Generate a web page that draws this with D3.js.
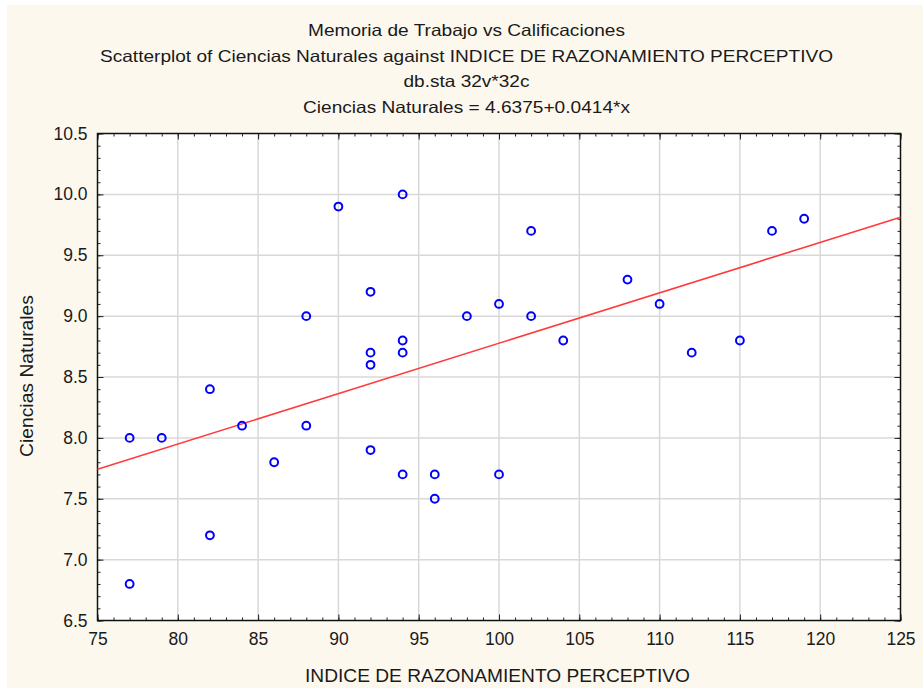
<!DOCTYPE html>
<html>
<head>
<meta charset="utf-8">
<script src="https://cdn.jsdelivr.net/npm/d3@7"></script>
<style>
  body { margin: 0; background: #fff; }
  text { font-family: "Liberation Sans", Arial, sans-serif; fill: #1a1a1a; }
</style>
</head>
<body>
<div id="chart"></div>
<script>
"use strict";

/** Data: INDICE DE RAZONAMIENTO PERCEPTIVO vs Ciencias Naturales */
const razonamiento = [77, 77, 79, 82, 82, 84, 86, 88, 88, 90, 92, 92, 92, 92, 94, 94,
                      94, 94, 96, 96, 98, 100, 100, 102, 102, 104, 108, 110, 112, 115, 117, 119];
const ciencias     = [8.0, 6.8, 8.0, 8.4, 7.2, 8.1, 7.8, 9.0, 8.1, 9.9, 9.2, 8.7, 8.6, 7.9, 10.0, 8.8,
                      8.7, 7.7, 7.7, 7.5, 9.0, 9.1, 7.7, 9.7, 9.0, 8.8, 9.3, 9.1, 8.7, 8.8, 9.7, 9.8];
const fitIntercept = 4.6375;
const fitSlope = 0.0414;
const xTicks = [75, 80, 85, 90, 95, 100, 105, 110, 115, 120, 125];
const yTicks = [6.5, 7.0, 7.5, 8.0, 8.5, 9.0, 9.5, 10.0, 10.5];
const titles = [
  "Memoria de Trabajo vs Calificaciones",
  "Scatterplot of Ciencias Naturales against INDICE DE RAZONAMIENTO PERCEPTIVO",
  "db.sta 32v*32c",
  "Ciencias Naturales = 4.6375+0.0414*x"
];
// text in the original is stretched sideways, these are the measured widths
const titleWidths = [317, 733, 126, 327];

/* Dimensions */
const w = 923;
const h = 690;
const plot = { left: 97.5, top: 133.5, right: 900.5, bottom: 620.5 };

const svg = d3.select("#chart")
  .append("svg")
  .attr("width", w)
  .attr("height", h);

/* cream panel */
svg.append("rect")
  .attr("x", 7).attr("y", 5)
  .attr("width", w - 7).attr("height", h - 7)
  .attr("fill", "#fdf8ee");

const x = d3.scaleLinear().domain([75, 125]).range([plot.left, plot.right]);
const y = d3.scaleLinear().domain([6.5, 10.5]).range([plot.bottom, plot.top]);

svg.append("rect")
  .attr("x", plot.left).attr("y", plot.top)
  .attr("width", plot.right - plot.left).attr("height", plot.bottom - plot.top)
  .attr("fill", "#fff");

/* gridlines */
const grid = svg.append("g").attr("stroke", "#d8d8d8").attr("stroke-width", 1.5);
grid.selectAll(".gx").data(xTicks.slice(1, -1)).enter().append("line")
  .attr("x1", d => x(d)).attr("x2", d => x(d))
  .attr("y1", plot.top).attr("y2", plot.bottom);
grid.selectAll(".gy").data(yTicks.slice(1, -1)).enter().append("line")
  .attr("y1", d => y(d)).attr("y2", d => y(d))
  .attr("x1", plot.left).attr("x2", plot.right);

/* axes, ticks inside */
const xMinor = d3.range(75, 126, 1);
const yMinor = d3.range(65, 106, 1).map(d => d / 10);

const fmtY = d3.format(".1f");
svg.append("g")
  .attr("transform", `translate(0,${plot.bottom})`)
  .call(d3.axisBottom(x).tickValues(xMinor).tickSize(-3).tickFormat(""))
  .call(g => g.select(".domain").remove());
svg.append("g")
  .attr("transform", `translate(0,${plot.bottom})`)
  .call(d3.axisBottom(x).tickValues(xTicks).tickSize(-6).tickPadding(12).tickFormat(d3.format("d")))
  .call(g => g.selectAll("text").attr("font-size", 17.5).attr("fill", "#1a1a1a"))
  .call(g => g.select(".domain").remove());
svg.append("g")
  .attr("transform", `translate(0,${plot.top})`)
  .call(d3.axisTop(x).tickValues(xMinor).tickSize(-3).tickFormat(""))
  .call(g => g.select(".domain").remove());
svg.append("g")
  .attr("transform", `translate(0,${plot.top})`)
  .call(d3.axisTop(x).tickValues(xTicks).tickSize(-6).tickFormat(""))
  .call(g => g.select(".domain").remove());

svg.append("g")
  .attr("transform", `translate(${plot.left},0)`)
  .call(d3.axisLeft(y).tickValues(yMinor).tickSize(-3).tickFormat(""))
  .call(g => g.select(".domain").remove());
svg.append("g")
  .attr("transform", `translate(${plot.left},0)`)
  .call(d3.axisLeft(y).tickValues(yTicks).tickSize(-6).tickPadding(10).tickFormat(fmtY))
  .call(g => g.selectAll("text").attr("font-size", 17.5).attr("fill", "#1a1a1a"))
  .call(g => g.select(".domain").remove());
svg.append("g")
  .attr("transform", `translate(${plot.right},0)`)
  .call(d3.axisRight(y).tickValues(yMinor).tickSize(-3).tickFormat(""))
  .call(g => g.select(".domain").remove());
svg.append("g")
  .attr("transform", `translate(${plot.right},0)`)
  .call(d3.axisRight(y).tickValues(yTicks).tickSize(-6).tickFormat(""))
  .call(g => g.select(".domain").remove());

svg.selectAll(".tick line").attr("stroke", "#222");

/* frame */
svg.append("rect")
  .attr("x", plot.left).attr("y", plot.top)
  .attr("width", plot.right - plot.left).attr("height", plot.bottom - plot.top)
  .attr("fill", "none").attr("stroke", "#111").attr("stroke-width", 1.5);

/* regression line */
svg.append("line")
  .attr("x1", x(75)).attr("y1", y(fitIntercept + fitSlope * 75))
  .attr("x2", x(125)).attr("y2", y(fitIntercept + fitSlope * 125))
  .attr("stroke", "#ff3b3b").attr("stroke-width", 1.6);

/* points */
svg.append("g")
  .selectAll("circle")
  .data(razonamiento)
  .enter()
  .append("circle")
  .attr("cx", d => x(d))
  .attr("cy", (d, i) => y(ciencias[i]))
  .attr("r", 3.9)
  .attr("fill", "none")
  .attr("stroke", "#0000ff")
  .attr("stroke-width", 2);

/* titles */
svg.append("g")
  .selectAll("text")
  .data(titles)
  .enter()
  .append("text")
  .attr("x", 466.5)
  .attr("y", (d, i) => 36 + i * 25.5)
  .attr("text-anchor", "middle")
  .attr("font-size", 16.5)
  .attr("textLength", (d, i) => titleWidths[i])
  .attr("lengthAdjust", "spacingAndGlyphs")
  .text(d => d);

/* axis titles */
svg.append("text")
  .attr("x", 497.5)
  .attr("y", 682)
  .attr("text-anchor", "middle")
  .attr("font-size", 17.5)
  .attr("textLength", 385)
  .attr("lengthAdjust", "spacingAndGlyphs")
  .text("INDICE DE RAZONAMIENTO PERCEPTIVO");

svg.append("text")
  .attr("transform", `translate(33,376) rotate(-90)`)
  .attr("text-anchor", "middle")
  .attr("font-size", 17.5)
  .attr("textLength", 162)
  .attr("lengthAdjust", "spacingAndGlyphs")
  .text("Ciencias Naturales");
</script>
</body>
</html>
